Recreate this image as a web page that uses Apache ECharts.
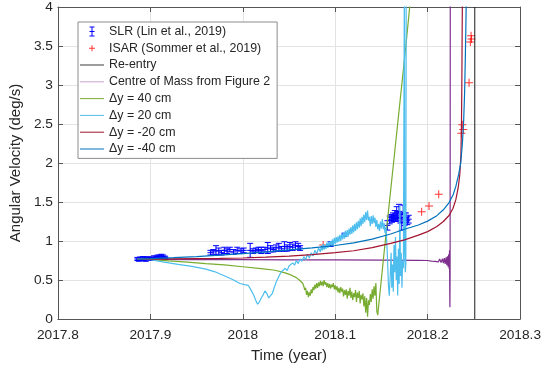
<!DOCTYPE html>
<html>
<head>
<meta charset="utf-8">
<script src="https://cdn.jsdelivr.net/npm/echarts@6/dist/echarts.min.js"></script>
<style>
  html, body { margin: 0; padding: 0; background: #ffffff; }
  #chart { width: 544px; height: 368px; }
</style>
</head>
<body>
<div id="chart"></div>
<script>
// Axis tick labels
const xTickLabels = ['2017.8', '2017.9', '2018', '2018.1', '2018.2', '2018.3'];
const yTickLabels = ['0', '0.5', '1', '1.5', '2', '2.5', '3', '3.5', '4'];

// SLR measurements: [year, deg/s, error]
const slrData = [
  [2017.8860, 0.770, 0.020], [2017.8875, 0.760, 0.020], [2017.8890, 0.775, 0.020],
  [2017.8905, 0.765, 0.015], [2017.8920, 0.780, 0.020], [2017.8935, 0.770, 0.025],
  [2017.8950, 0.760, 0.020], [2017.8965, 0.775, 0.020], [2017.8980, 0.780, 0.015],
  [2017.9000, 0.775, 0.020], [2017.9020, 0.770, 0.020], [2017.9040, 0.790, 0.020],
  [2017.9060, 0.785, 0.020], [2017.9080, 0.800, 0.020], [2017.9100, 0.795, 0.025],
  [2017.9120, 0.810, 0.020], [2017.9140, 0.800, 0.020], [2017.9160, 0.790, 0.015],
  [2017.9650, 0.850, 0.030], [2017.9680, 0.860, 0.030], [2017.9710, 0.880, 0.060],
  [2017.9740, 0.870, 0.040], [2017.9770, 0.850, 0.030], [2017.9800, 0.880, 0.040],
  [2017.9830, 0.870, 0.030], [2017.9860, 0.890, 0.030], [2017.9900, 0.860, 0.030],
  [2017.9940, 0.880, 0.040], [2017.9980, 0.870, 0.030], [2018.0010, 0.880, 0.030],
  [2018.0080, 0.880, 0.090], [2018.0110, 0.870, 0.030], [2018.0140, 0.880, 0.030],
  [2018.0170, 0.890, 0.030], [2018.0200, 0.880, 0.040], [2018.0240, 0.890, 0.030],
  [2018.0270, 0.910, 0.070], [2018.0300, 0.900, 0.040], [2018.0330, 0.890, 0.030],
  [2018.0360, 0.910, 0.040], [2018.0390, 0.920, 0.050], [2018.0420, 0.900, 0.030],
  [2018.0450, 0.930, 0.060], [2018.0480, 0.910, 0.040], [2018.0510, 0.930, 0.050],
  [2018.0540, 0.920, 0.040], [2018.0570, 0.940, 0.050], [2018.0600, 0.930, 0.040],
  [2018.0620, 0.910, 0.030],
  [2018.0950, 0.960, 0.030], [2018.1100, 1.080, 0.020],
  [2018.1565, 1.200, 0.060], [2018.1590, 1.270, 0.050], [2018.1605, 1.300, 0.040],
  [2018.1615, 1.280, 0.040], [2018.1625, 1.310, 0.050], [2018.1635, 1.290, 0.040],
  [2018.1645, 1.330, 0.060], [2018.1655, 1.300, 0.050], [2018.1665, 1.360, 0.080],
  [2018.1675, 1.320, 0.060], [2018.1690, 1.380, 0.090], [2018.1705, 1.300, 0.070],
  [2018.1720, 1.240, 0.100], [2018.1735, 1.350, 0.110], [2018.1750, 1.280, 0.080],
  [2018.1765, 1.300, 0.060], [2018.1780, 1.260, 0.050], [2018.1795, 1.280, 0.050]
];

// ISAR measurements: [year, deg/s]
const isarData = [
  [2018.0870, 0.950],
  [2018.1935, 1.375], [2018.2015, 1.450], [2018.2120, 1.600],
  [2018.2365, 2.380], [2018.2375, 2.490], [2018.2385, 2.430],
  [2018.2448, 3.030],
  [2018.2462, 3.550], [2018.2470, 3.630], [2018.2474, 3.590]
];

// Re-entry epoch
const reEntryYear = 2018.251;

// Simulated spin rate, centre of mass from Figure 2
const centreOfMass = [
  [2017.886, 0.765], [2017.950, 0.762], [2018.000, 0.760], [2018.050, 0.758],
  [2018.100, 0.757], [2018.150, 0.755], [2018.190, 0.752], [2018.200, 0.750],
  [2018.2020, 0.755], [2018.2040, 0.742], [2018.2060, 0.758], [2018.2080, 0.738],
  [2018.2100, 0.762], [2018.2115, 0.732], [2018.2130, 0.768], [2018.2145, 0.725],
  [2018.2160, 0.772], [2018.2170, 0.715], [2018.2180, 0.780], [2018.2190, 0.705],
  [2018.2200, 0.790], [2018.2208, 0.690], [2018.2215, 0.805], [2018.2222, 0.670],
  [2018.2228, 0.830], [2018.2233, 0.640], [2018.2237, 0.880], [2018.2239, 0.400],
  [2018.2241, 0.150], [2018.2243, 0.600], [2018.2245, 4.300]
];

// Centre of mass shifted by +40 cm
const dy40 = [
  [2017.886, 0.770], [2017.900, 0.765], [2017.920, 0.745], [2017.940, 0.730],
  [2017.960, 0.710], [2017.980, 0.695], [2018.000, 0.670], [2018.020, 0.645],
  [2018.035, 0.625], [2018.045, 0.595], [2018.052, 0.565], [2018.058, 0.530],
  [2018.062, 0.490], [2018.065, 0.455],
  [2018.066, 0.42], [2018.067, 0.37], [2018.068, 0.40], [2018.069, 0.31],
  [2018.070, 0.36], [2018.071, 0.28], [2018.072, 0.34], [2018.073, 0.30],
  [2018.074, 0.38], [2018.075, 0.33], [2018.076, 0.41], [2018.077, 0.37],
  [2018.078, 0.44], [2018.079, 0.39], [2018.080, 0.46], [2018.081, 0.40],
  [2018.082, 0.47], [2018.083, 0.42], [2018.084, 0.49], [2018.085, 0.43],
  [2018.086, 0.48], [2018.087, 0.42], [2018.088, 0.50], [2018.089, 0.44],
  [2018.090, 0.47], [2018.091, 0.41], [2018.092, 0.46], [2018.093, 0.40],
  [2018.094, 0.45], [2018.095, 0.39], [2018.096, 0.44], [2018.097, 0.41],
  [2018.098, 0.46], [2018.099, 0.38], [2018.100, 0.43], [2018.101, 0.37],
  [2018.102, 0.42], [2018.103, 0.34], [2018.104, 0.40], [2018.105, 0.33],
  [2018.106, 0.41], [2018.107, 0.35], [2018.108, 0.39], [2018.109, 0.29],
  [2018.110, 0.37], [2018.111, 0.31], [2018.112, 0.38], [2018.113, 0.26],
  [2018.114, 0.36], [2018.115, 0.30], [2018.116, 0.40], [2018.117, 0.27],
  [2018.118, 0.35], [2018.119, 0.24], [2018.120, 0.33], [2018.121, 0.28],
  [2018.122, 0.37], [2018.123, 0.22], [2018.124, 0.34], [2018.125, 0.27],
  [2018.126, 0.36], [2018.127, 0.20], [2018.128, 0.31], [2018.129, 0.25],
  [2018.130, 0.33], [2018.131, 0.16], [2018.132, 0.29], [2018.133, 0.08],
  [2018.134, 0.27], [2018.135, 0.03], [2018.136, 0.24], [2018.137, 0.18],
  [2018.138, 0.32], [2018.139, 0.22], [2018.140, 0.38], [2018.141, 0.26],
  [2018.142, 0.42], [2018.143, 0.30], [2018.144, 0.46], [2018.145, 0.10],
  [2018.146, 0.05],
  [2018.149, 0.40], [2018.152, 0.75], [2018.156, 1.20], [2018.160, 1.65],
  [2018.164, 2.10], [2018.168, 2.55], [2018.172, 3.00], [2018.176, 3.45],
  [2018.181, 4.05]
];

// Centre of mass shifted by +20 cm
const dy20 = [
  [2017.886, 0.770], [2017.900, 0.760], [2017.915, 0.730], [2017.930, 0.700],
  [2017.945, 0.675], [2017.960, 0.640], [2017.970, 0.605], [2017.980, 0.555],
  [2017.990, 0.500], [2017.997, 0.455], [2018.002, 0.440], [2018.006, 0.430],
  [2018.009, 0.370], [2018.012, 0.300], [2018.014, 0.240], [2018.016, 0.190],
  [2018.018, 0.220], [2018.020, 0.270], [2018.022, 0.310], [2018.024, 0.360],
  [2018.026, 0.330], [2018.028, 0.270], [2018.030, 0.290], [2018.032, 0.330],
  [2018.034, 0.400], [2018.036, 0.470], [2018.038, 0.520],
  [2018.040, 0.57], [2018.042, 0.61], [2018.044, 0.59], [2018.046, 0.65],
  [2018.048, 0.62], [2018.050, 0.68], [2018.052, 0.66], [2018.054, 0.72],
  [2018.056, 0.69], [2018.058, 0.75], [2018.060, 0.71], [2018.062, 0.77],
  [2018.064, 0.74], [2018.066, 0.80], [2018.068, 0.76], [2018.070, 0.83],
  [2018.072, 0.78], [2018.074, 0.85], [2018.076, 0.81], [2018.078, 0.88],
  [2018.080, 0.83], [2018.082, 0.91],
  [2018.084, 0.86], [2018.085, 0.94], [2018.086, 0.88], [2018.087, 0.96],
  [2018.088, 0.89], [2018.089, 0.95], [2018.090, 0.90], [2018.091, 0.98],
  [2018.092, 0.91], [2018.093, 0.99], [2018.094, 0.93], [2018.095, 1.00],
  [2018.096, 0.94], [2018.097, 1.02], [2018.098, 0.95], [2018.099, 1.04],
  [2018.100, 0.96], [2018.101, 1.05], [2018.102, 0.98], [2018.103, 1.06],
  [2018.104, 0.99], [2018.105, 1.08], [2018.106, 1.00], [2018.107, 1.09],
  [2018.108, 1.02], [2018.109, 1.11], [2018.110, 1.03], [2018.111, 1.13],
  [2018.112, 1.05], [2018.113, 1.14], [2018.114, 1.06], [2018.115, 1.16],
  [2018.116, 1.08], [2018.117, 1.18], [2018.118, 1.09], [2018.119, 1.20],
  [2018.120, 1.11], [2018.121, 1.22], [2018.122, 1.13], [2018.123, 1.24],
  [2018.124, 1.15], [2018.125, 1.26], [2018.126, 1.17], [2018.127, 1.29],
  [2018.128, 1.19], [2018.129, 1.31], [2018.130, 1.22], [2018.131, 1.34],
  [2018.132, 1.24], [2018.133, 1.37], [2018.134, 1.27], [2018.135, 1.39],
  [2018.136, 1.26], [2018.137, 1.31], [2018.138, 1.19], [2018.139, 1.32],
  [2018.140, 1.22], [2018.141, 1.33], [2018.142, 1.23], [2018.143, 1.30],
  [2018.144, 1.18], [2018.145, 1.27], [2018.146, 1.15], [2018.147, 1.22],
  [2018.148, 1.13], [2018.149, 1.25], [2018.150, 1.16], [2018.151, 1.28],
  [2018.152, 1.15], [2018.153, 1.23], [2018.154, 1.10], [2018.155, 1.18],
  [2018.1565, 0.80], [2018.1575, 0.45], [2018.1585, 0.30], [2018.1595, 0.55],
  [2018.1605, 0.85], [2018.1612, 0.40], [2018.1620, 0.70], [2018.1628, 0.35],
  [2018.1636, 0.95], [2018.1644, 0.60], [2018.1652, 1.05], [2018.1660, 0.50],
  [2018.1668, 0.80], [2018.1676, 0.30], [2018.1684, 0.90], [2018.1692, 0.45],
  [2018.1700, 1.45], [2018.1706, 0.55], [2018.1714, 0.85], [2018.1722, 0.40],
  [2018.1730, 0.75], [2018.1738, 0.65], [2018.1748, 4.30], [2018.1752, 0.85],
  [2018.1758, 0.60], [2018.1764, 0.70], [2018.1768, 4.30]
];

// Centre of mass shifted by -20 cm
const dyMinus20 = [
  [2017.886, 0.766], [2017.900, 0.768], [2017.925, 0.771], [2017.950, 0.774],
  [2017.975, 0.777], [2018.000, 0.782], [2018.025, 0.792], [2018.050, 0.806],
  [2018.075, 0.825], [2018.100, 0.850], [2018.120, 0.875], [2018.140, 0.915],
  [2018.160, 0.970], [2018.175, 1.015], [2018.190, 1.075], [2018.200, 1.120],
  [2018.210, 1.185], [2018.217, 1.250], [2018.2234, 1.330], [2018.2275, 1.420],
  [2018.2305, 1.530], [2018.2330, 1.680], [2018.2348, 1.850], [2018.2360, 2.100],
  [2018.2366, 2.500], [2018.2370, 3.000], [2018.2373, 3.600], [2018.2376, 4.100]
];

// Centre of mass shifted by -40 cm
const dyMinus40 = [
  [2017.886, 0.768], [2017.900, 0.774], [2017.925, 0.786], [2017.950, 0.800],
  [2017.975, 0.818], [2018.000, 0.838], [2018.025, 0.860], [2018.050, 0.885],
  [2018.075, 0.912], [2018.100, 0.942], [2018.120, 0.975], [2018.140, 1.025],
  [2018.160, 1.090], [2018.175, 1.150], [2018.190, 1.205], [2018.200, 1.255],
  [2018.210, 1.325], [2018.217, 1.400], [2018.223, 1.490], [2018.2275, 1.590],
  [2018.2305, 1.700], [2018.2335, 1.850], [2018.2358, 2.000], [2018.2376, 2.250],
  [2018.2390, 2.550], [2018.2400, 2.900], [2018.2407, 3.300], [2018.2413, 3.700],
  [2018.2418, 4.100]
];

const FONT = 'Liberation Sans, Arial, Helvetica, sans-serif';
const TEXT = '#262626';
const AXIS = '#555555';

// Legend glyphs drawn inside a 24x12 box
const BOX = 'M0,0 M24,12 ';
const lineIcon = 'path://' + BOX + 'M0,5.5 L24,5.5 L24,6.5 L0,6.5 Z';
const errorBarIcon = 'path://' + BOX +
  'M11.5,1 L12.5,1 L12.5,11 L11.5,11 Z M9.5,1 L14.5,1 L14.5,2 L9.5,2 Z ' +
  'M9.5,10 L14.5,10 L14.5,11 L9.5,11 Z M9.5,5.5 L14.5,5.5 L14.5,6.5 L9.5,6.5 Z';
const plusIcon = 'path://' + BOX +
  'M9,5.5 L15,5.5 L15,6.5 L9,6.5 Z M11.5,3 L12.5,3 L12.5,9 L11.5,9 Z';
const plusSymbol = 'path://M0,3.5 L8,3.5 L8,4.5 L0,4.5 Z M3.5,0 L4.5,0 L4.5,8 L3.5,8 Z';

const C = {
  slr: '#0000ff', isar: '#ff0000', reentry: '#1a1a1a', com: '#7e2f8e',
  p40: '#77ac30', p20: '#4dbeee', m20: '#a2142f', m40: '#0072bd'
};

function lineSeries(name, data, color, width) {
  return {
    name: name, type: 'line', data: data, symbol: 'none', showSymbol: false,
    xAxisIndex: 0, yAxisIndex: 0, clip: true, z: 4,
    lineStyle: { color: color, width: width }, itemStyle: { color: color },
    animation: false, silent: true
  };
}

const chart = echarts.init(document.getElementById('chart'), null, { renderer: 'canvas' });

const option = {
  animation: false,
  backgroundColor: '#ffffff',
  textStyle: { fontFamily: FONT },
  grid: { left: 52, right: 22, top: 7, bottom: 49, containLabel: false },
  xAxis: [
    {
      type: 'value', position: 'bottom', min: 2017.8, max: 2018.3, interval: 0.1,
      name: 'Time (year)', nameLocation: 'middle', nameGap: 29,
      nameTextStyle: { color: TEXT, fontSize: 15, fontFamily: FONT },
      axisLine: { show: true, onZero: false, lineStyle: { color: AXIS, width: 1 } },
      axisTick: { show: true, inside: true, length: 5, lineStyle: { color: AXIS } },
      axisLabel: {
        color: TEXT, fontSize: 13.7, fontFamily: FONT, margin: 9,
        formatter: (v) => xTickLabels[Math.round((v - 2017.8) / 0.1)]
      },
      splitLine: { show: true, lineStyle: { color: '#e3e3e3', width: 1 } }
    },
    {
      type: 'value', position: 'top', min: 2017.8, max: 2018.3, interval: 0.1,
      axisLine: { show: true, onZero: false, lineStyle: { color: AXIS, width: 1 } },
      axisTick: { show: true, inside: true, length: 5, lineStyle: { color: AXIS } },
      axisLabel: { show: false }, splitLine: { show: false }
    }
  ],
  yAxis: [
    {
      type: 'value', position: 'left', min: 0, max: 4, interval: 0.5,
      name: 'Angular Velocity (deg/s)', nameLocation: 'middle', nameGap: 26, nameRotate: 90,
      nameTextStyle: { color: TEXT, fontSize: 15, fontFamily: FONT },
      axisLine: { show: true, onZero: false, lineStyle: { color: AXIS, width: 1 } },
      axisTick: { show: true, inside: true, length: 5, lineStyle: { color: AXIS } },
      axisLabel: {
        color: TEXT, fontSize: 13.7, fontFamily: FONT, margin: 5,
        formatter: (v) => yTickLabels[Math.round(v / 0.5)]
      },
      splitLine: { show: true, lineStyle: { color: '#e3e3e3', width: 1 } }
    },
    {
      type: 'value', position: 'right', min: 0, max: 4, interval: 0.5,
      axisLine: { show: true, onZero: false, lineStyle: { color: AXIS, width: 1 } },
      axisTick: { show: true, inside: true, length: 5, lineStyle: { color: AXIS } },
      axisLabel: { show: false }, splitLine: { show: false }
    }
  ],
  legend: {
    show: true, orient: 'vertical', left: 78, top: 22,
    padding: [1, 7, 1, 2], itemGap: 0, itemWidth: 24, itemHeight: 12,
    backgroundColor: '#ffffff', borderColor: '#8c8c8c', borderWidth: 1, borderRadius: 0,
    selectedMode: false,
    itemStyle: { borderWidth: 0 },
    textStyle: { color: TEXT, fontSize: 12.4, fontFamily: FONT, lineHeight: 16.8 },
    data: [
      { name: 'SLR (Lin et al., 2019)', icon: errorBarIcon, itemStyle: { color: C.slr } },
      { name: 'ISAR (Sommer et al., 2019)', icon: plusIcon, itemStyle: { color: C.isar } },
      { name: 'Re-entry', icon: lineIcon, itemStyle: { color: '#3a3a3a' } },
      { name: 'Centre of Mass from Figure 2', icon: lineIcon, itemStyle: { color: '#c9a2d0' } },
      { name: 'Δy = 40 cm', icon: lineIcon, itemStyle: { color: C.p40 } },
      { name: 'Δy = 20 cm', icon: lineIcon, itemStyle: { color: C.p20 } },
      { name: 'Δy = -20 cm', icon: lineIcon, itemStyle: { color: C.m20 } },
      { name: 'Δy = -40 cm', icon: lineIcon, itemStyle: { color: C.m40 } }
    ]
  },
  series: [
    {
      name: 'SLR (Lin et al., 2019)', type: 'custom', data: slrData, z: 3,
      xAxisIndex: 0, yAxisIndex: 0, clip: true, silent: true,
      encode: { x: 0, y: 1 },
      itemStyle: { color: C.slr },
      renderItem: function (params, api) {
        const t = api.value(0), v = api.value(1), e = api.value(2);
        const c = api.coord([t, v]);
        const hi = api.coord([t, v + e]);
        const lo = api.coord([t, v - e]);
        const st = { stroke: C.slr, lineWidth: 1, fill: null };
        const cap = 3, mk = 3;
        return {
          type: 'group',
          children: [
            { type: 'line', shape: { x1: c[0], y1: hi[1], x2: c[0], y2: lo[1] }, style: st },
            { type: 'line', shape: { x1: c[0] - cap, y1: hi[1], x2: c[0] + cap, y2: hi[1] }, style: st },
            { type: 'line', shape: { x1: c[0] - cap, y1: lo[1], x2: c[0] + cap, y2: lo[1] }, style: st },
            { type: 'line', shape: { x1: c[0] - mk, y1: c[1], x2: c[0] + mk, y2: c[1] }, style: st }
          ]
        };
      }
    },
    {
      name: 'ISAR (Sommer et al., 2019)', type: 'scatter', data: isarData, z: 3,
      xAxisIndex: 0, yAxisIndex: 0, silent: true,
      symbol: plusSymbol, symbolSize: 8,
      itemStyle: { color: C.isar }
    },
    lineSeries('Re-entry', [[reEntryYear, 0], [reEntryYear, 4]], C.reentry, 1),
    lineSeries('Centre of Mass from Figure 2', centreOfMass, C.com, 1.2),
    lineSeries('Δy = 40 cm', dy40, C.p40, 1.2),
    lineSeries('Δy = 20 cm', dy20, C.p20, 1.2),
    lineSeries('Δy = -20 cm', dyMinus20, C.m20, 1.2),
    lineSeries('Δy = -40 cm', dyMinus40, C.m40, 1.2)
  ]
};

chart.setOption(option);
</script>
</body>
</html>
